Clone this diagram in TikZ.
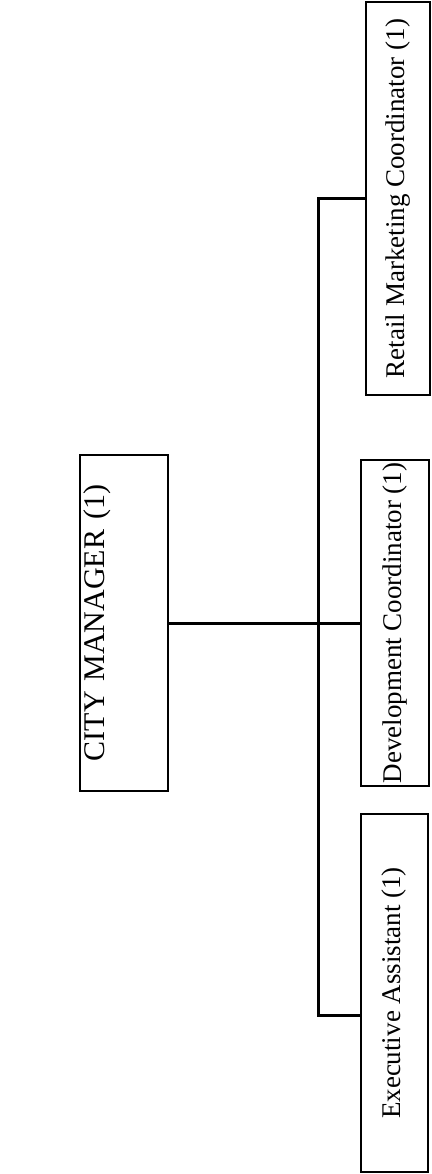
\documentclass[tikz,border=0pt]{standalone}
\usepackage{fontspec}
\setmainfont{Liberation Serif}
\usepackage{graphicx}

\tikzset{
  post/.style={draw, line width=1.6pt, inner sep=0pt, font=\fontsize{27}{30}\selectfont},
  link/.style={line width=3pt},
}

\begin{document}
\begin{tikzpicture}[x=1pt,y=1pt]
\useasboundingbox (0,0) rectangle (431,-1174);

% Draw the boxes
\node[post, minimum height=336pt, text width=80pt, inner xsep=4pt, align=left,
      font=\fontsize{30}{33}\selectfont] (manager) at (124,-623) {\rotatebox{90}{CITY MANAGER (1)}};
\node[post, minimum width=64pt, minimum height=393pt] (retail) at (398,-198.5) {\rotatebox{90}{Retail Marketing Coordinator (1)}};
\node[post, minimum width=68pt, minimum height=326pt] (dev) at (395,-623) {\rotatebox{90}{Development Coordinator (1)}};
\node[post, minimum width=67pt, minimum height=358pt] (exec) at (394.5,-993) {\rotatebox{90}{Executive Assistant (1)}};

% Draw the connecting lines
\coordinate (jexec) at (318,-1015);
\draw[link] (manager.east) -- (dev.west);
\draw[link] (retail.west) -| (jexec) -- (exec.west |- jexec);

\end{tikzpicture}
\end{document}
